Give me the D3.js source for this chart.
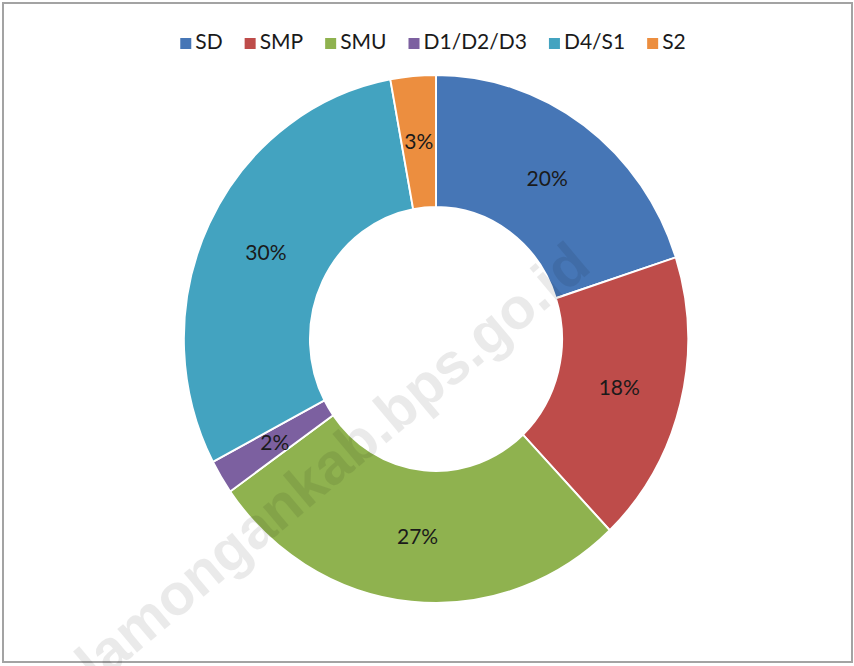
<!DOCTYPE html>
<meta charset="utf-8">
<style>
    body {
        margin: 0;
        background: #fff;
    }
    svg {
        font-family: Lato, "Open Sans", sans-serif;
    }
</style>
<body>
<script src="https://cdn.jsdelivr.net/npm/d3@7"></script>
<script>
    const width = 854;
    const height = 666;

    const categories = ["SD", "SMP", "SMU", "D1/D2/D3", "D4/S1", "S2"];
    const shares = [20.0, 17.9, 27.3, 2.1, 29.8, 2.9];
    const colors = ["#4676b6", "#be4c4a", "#8fb24f", "#7c60a0", "#43a3c0", "#ec8e3f"];

    const cx = 436, cy = 339;
    const outerR = 264, innerR = 132;
    const squeeze = 0.955; // the original is a bit narrower than tall

    const svg = d3.select("body")
        .append("svg")
        .attr("width", width)
        .attr("height", height);

    // frame of the chart area
    svg.append("rect")
        .attr("x", 3)
        .attr("y", 3)
        .attr("width", 849)
        .attr("height", 659)
        .style("fill", "#fff")
        .style("stroke", "#a3a3a3")
        .style("stroke-width", 2);

    const data = categories.map((c, i) => ({name: c, value: shares[i], color: colors[i]}));

    const pie = d3.pie().sort(null).value(d => d.value);
    const arc = d3.arc().innerRadius(innerR).outerRadius(outerR);
    const labelArc = d3.arc().innerRadius((innerR + outerR) / 2).outerRadius((innerR + outerR) / 2);

    const donut = svg.append("g")
        .attr("class", "donut")
        .attr("transform", "translate(" + cx + "," + cy + ") scale(" + squeeze + ",1)");

    donut.selectAll("path")
        .data(pie(data))
        .enter().append("path")
        .attr("d", arc)
        .style("fill", d => d.data.color)
        .style("stroke", "#fff")
        .style("stroke-width", 2);

    // percentage labels
    svg.append("g")
        .attr("class", "labels")
        .selectAll("text")
        .data(pie(data))
        .enter().append("text")
        .attr("x", d => cx + labelArc.centroid(d)[0] * squeeze)
        .attr("y", d => cy + labelArc.centroid(d)[1])
        .attr("dy", "0.36em")
        .style("text-anchor", "middle")
        .style("font-size", "21px")
        .style("fill", "#1a1a1a")
        .text(d => Math.round(d.data.value) + "%");

    // legend, laid out from measured text widths and centred
    const legend = svg.append("g").attr("class", "legend");
    const items = legend.selectAll("g")
        .data(data)
        .enter().append("g");

    items.append("rect")
        .attr("width", 11)
        .attr("height", 11)
        .attr("y", -11)
        .style("fill", d => d.color);

    items.append("text")
        .attr("x", 15)
        .attr("y", 0)
        .attr("dy", "0.02em")
        .style("font-size", "21px")
        .style("fill", "#1a1a1a")
        .text(d => d.name);

    const gap = 22;
    let offset = 0;
    items.each(function() {
        const w = 15 + d3.select(this).select("text").node().getComputedTextLength();
        d3.select(this).attr("transform", "translate(" + offset + ",0)");
        offset += w + gap;
    });
    const legendWidth = offset - gap;
    legend.attr("transform", "translate(" + (433 - legendWidth / 2) + ",49)");

    // faint watermark across the chart
    svg.append("text")
        .attr("transform", "translate(345,478) rotate(-40)")
        .style("text-anchor", "middle")
        .style("font-family", "'Liberation Sans', Arial, sans-serif")
        .style("font-weight", "bold")
        .style("font-size", "58px")
        .style("fill", "#000")
        .style("opacity", 0.08)
        .text("lamongankab.bps.go.id");
</script>
</body>
</html>
